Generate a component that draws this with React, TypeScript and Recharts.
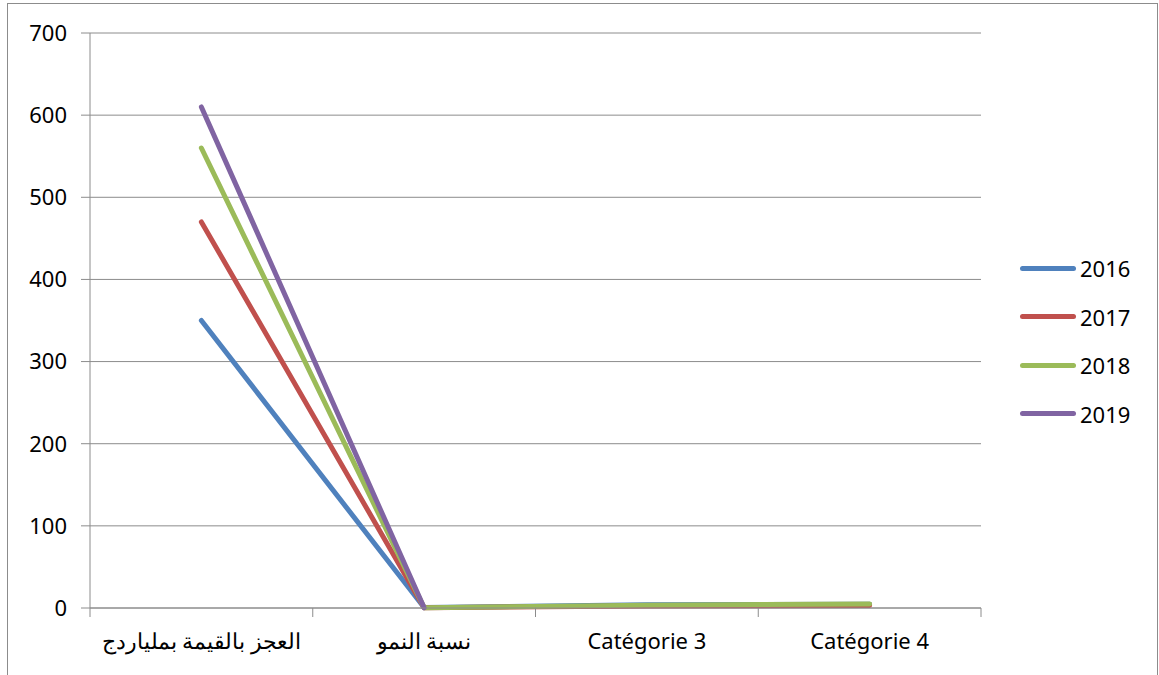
import { CartesianGrid, Line, LineChart, XAxis, YAxis } from "recharts";

const categories = ["العجز بالقيمة بملياردج", "نسبة النمو", "Catégorie 3", "Catégorie 4"];
const values2016 = [350, 0.5, 4, 4.5];
const values2017 = [470, 0.3, 2.5, 3];
const values2018 = [560, 0.4, 3.5, 5];
const values2019 = [610, 0.2, null, null];
const yTicks = [0, 100, 200, 300, 400, 500, 600, 700];

const series = [
  { key: "y2016", name: "2016", color: "#4f81bd", values: values2016 },
  { key: "y2017", name: "2017", color: "#c0504d", values: values2017 },
  { key: "y2018", name: "2018", color: "#9bbb59", values: values2018 },
  { key: "y2019", name: "2019", color: "#8064a2", values: values2019 },
];

// x runs 0..4 so tick marks fall between categories, points sit at the band middles
const data = categories.map((name, i) => {
  const row: Record<string, number | string | null> = { x: i + 0.5, name };
  series.forEach((s) => {
    row[s.key] = s.values[i];
  });
  return row;
});

const FONT = "'Noto Sans', sans-serif";
const FONT_SIZE = 22;
const CHART_W = 1149;
const CHART_H = 700;
const X_HEIGHT = 40;
const Y_WIDTH = 60;
const MARGIN = { top: 29, right: 176, left: 22, bottom: 56 };
const PLOT_W = CHART_W - MARGIN.left - MARGIN.right - Y_WIDTH;
const BAND = PLOT_W / categories.length;

function CategoryTick(props: any) {
  const { x, y, payload } = props;
  const label = categories[payload.value];
  if (!label) return null;
  return (
    <text
      x={x + BAND / 2}
      y={y + 30}
      textAnchor="middle"
      fontFamily={FONT}
      fontSize={FONT_SIZE}
      fill="#000"
    >
      {label}
    </text>
  );
}

function LegendBox() {
  return (
    <div
      style={{
        position: "absolute",
        left: 1012,
        top: 240,
        fontFamily: FONT,
        fontSize: FONT_SIZE,
        color: "#000",
      }}
    >
      {series.map((s) => (
        <div key={s.key} style={{ display: "flex", alignItems: "center", height: 48.5 }}>
          <div
            style={{
              width: 56,
              height: 5,
              borderRadius: 3,
              background: s.color,
              marginRight: 4,
            }}
          />
          <span>{s.name}</span>
        </div>
      ))}
    </div>
  );
}

export default function App() {
  return (
    <div
      style={{
        position: "absolute",
        left: 7,
        top: 3,
        width: CHART_W + 2,
        height: 672,
        overflow: "hidden",
      }}
    >
      <div
        style={{
          position: "relative",
          width: CHART_W,
          height: CHART_H,
          borderTop: "1px solid #8c8c8c",
          borderLeft: "1px solid #8c8c8c",
          borderRight: "1px solid #8c8c8c",
          background: "#fff",
        }}
      >
        <LineChart width={CHART_W} height={CHART_H} data={data} margin={MARGIN}>
          <CartesianGrid vertical={false} stroke="#8c8c8c" strokeWidth={1} />
          <XAxis
            dataKey="x"
            type="number"
            domain={[0, categories.length]}
            ticks={[0, 1, 2, 3, 4]}
            interval={0}
            tick={<CategoryTick />}
            tickSize={9}
            tickLine={{ stroke: "#8c8c8c" }}
            axisLine={{ stroke: "#8c8c8c" }}
            height={X_HEIGHT}
          />
          <YAxis
            domain={[0, 700]}
            ticks={yTicks}
            interval={0}
            width={Y_WIDTH}
            tickSize={9}
            tickMargin={14}
            tickLine={{ stroke: "#8c8c8c" }}
            axisLine={{ stroke: "#8c8c8c" }}
            tick={{ fill: "#000", fontSize: FONT_SIZE, fontFamily: FONT }}
          />
          {series.map((s) => (
            <Line
              key={s.key}
              type="linear"
              dataKey={s.key}
              name={s.name}
              stroke={s.color}
              strokeWidth={5}
              strokeLinecap="round"
              strokeLinejoin="round"
              dot={false}
              activeDot={false}
              isAnimationActive={false}
            />
          ))}
        </LineChart>
        <LegendBox />
      </div>
    </div>
  );
}
